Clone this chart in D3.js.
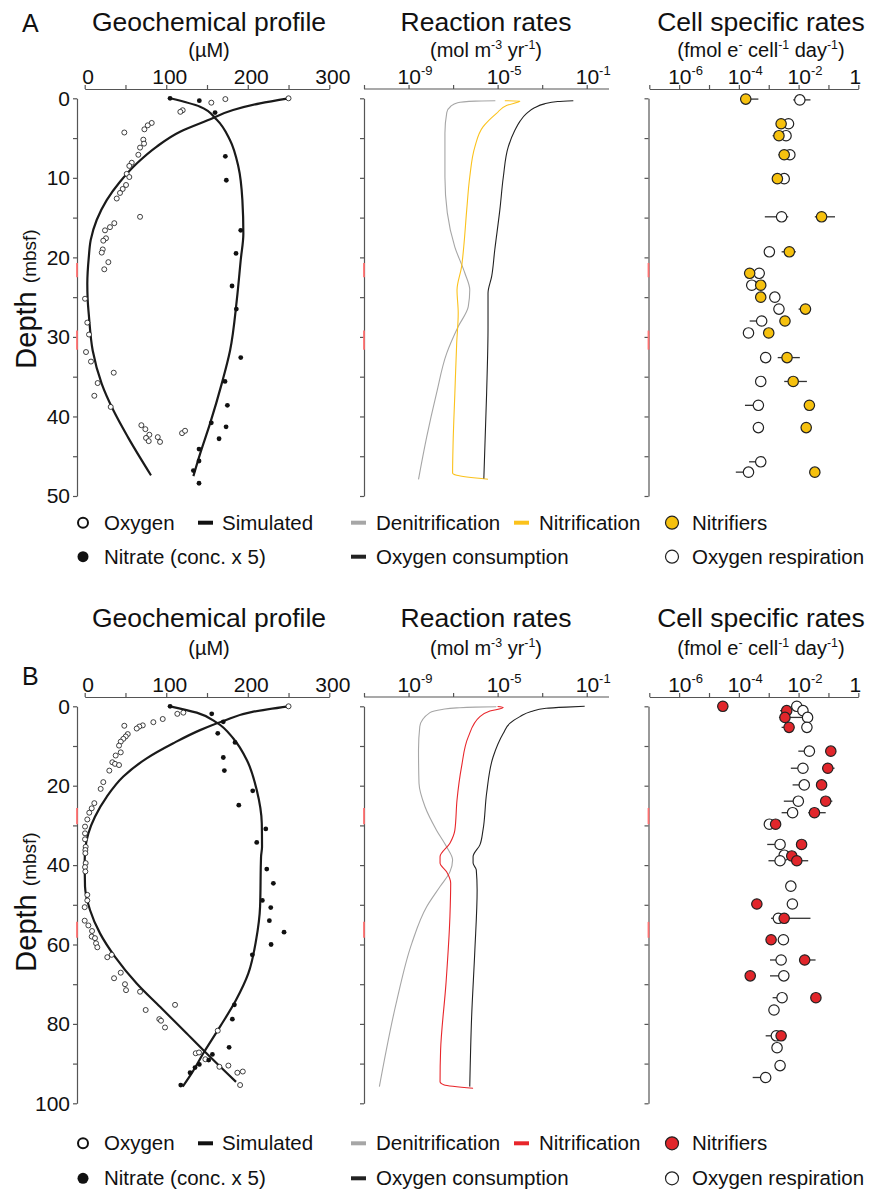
<!DOCTYPE html>
<html>
<head>
<meta charset="utf-8">
<script src="https://cdn.jsdelivr.net/npm/d3@7"></script>
<style>
  body { margin: 0; background: #fff; }
  text { font-family: "Liberation Sans", Arial, sans-serif; fill: #111; }
</style>
</head>
<body>
<svg id="fig" width="875" height="1190"></svg>
<script>
// ---------- panel A data (site A) ----------
// geochemistry: [concentration µM, depth mbsf]
const oxygenA = [[250,0],[172.5,0.1],[155.3,0.55],[120.2,1.5],[117.3,1.7],[82.2,3.1],[77.3,3.4],[73.2,3.9],[48.6,4.3],[71.9,5.2],[72.8,5.7],[67.9,6.2],[65.8,7.1],[57.7,8.1],[54.7,8.5],[51.5,9.5],[54.7,9.9],[50.7,10.9],[46.6,11.4],[43.3,11.9],[39.3,12.6],[67.9,14.9],[36.3,15.7],[31,16.2],[24.9,16.6],[26.1,17.6],[22.8,17.9],[22.1,19.0],[20.9,19.4],[29,20.6],[24,21.5],[0.4,25.2],[3.2,28.2],[5.3,29.7],[1.6,31.9],[7.7,33.1],[35.6,34.5],[15.9,35.8],[11.8,37.4],[31.9,38.8],[69.5,41.1],[74.4,41.6],[79.3,42.3],[75.2,42.7],[78.5,43.1],[89.6,42.6],[92.4,43.2],[119.4,42.1],[123.1,41.8]];
const nitrateA = [[104.7,0],[140.6,0.3],[159.9,1.8],[172.5,7.3],[173.7,10.3],[191.4,16.6],[185.6,19.5],[180.7,23.6],[186,26.5],[191.4,32.6],[172.1,35.6],[175,38.6],[155.3,40.8],[173.4,41.3],[164.8,42.8],[140.2,44.1],[140.2,45.6],[133.3,46.8],[140.2,48.4]];
const oxygenSimA = [[250,0],[215,0.63],[182,1.47],[150,2.8],[117,4.2],[88,6.1],[63.8,8.2],[43.3,10.5],[27,12.8],[14.7,15.3],[7.4,17.8],[5,20],[3.2,23.3],[3.6,25.2],[5.3,27.5],[9.8,31.7],[20.9,35.9],[35,39.2],[53,42.6],[81.3,47.4]];
const nitrateSimA = [[104.7,0],[141.5,1.05],[162,2.7],[178,5.2],[188.5,8.6],[193.4,12.8],[194.6,17],[191.4,20.3],[186.5,25.4],[178.3,31.7],[168,35.9],[153.7,40.9],[141.5,44.7],[133.3,47.5]];
// reaction rates: [depth, mol m-3 yr-1]
const denitA = [[0.3,7.9e-6],[0.35,1.0e-6],[0.55,1.6e-7],[1.0,7.9e-8],[1.8,5.2e-8],[4.4,4.3e-8],[9.9,4.3e-8],[14.4,5.5e-8],[18.7,1.2e-7],[22,3.4e-7],[24.1,5.6e-7],[26.2,4.8e-7],[28.7,1.7e-7],[32.1,5.1e-8],[37.1,1.8e-8],[42.6,6.5e-9],[47.9,2.8e-9]];
const nitrifA = [[0.3,2.1e-5],[0.35,1.0e-4],[0.9,2.5e-5],[1.9,8.9e-6],[3.6,2.2e-6],[6.1,9.5e-7],[9.9,5.6e-7],[14,4.1e-7],[18.7,3.0e-7],[21.2,2.4e-7],[24.1,1.5e-7],[27,1.7e-7],[30.8,1.45e-7],[37.1,1.2e-7],[43.4,1.0e-7],[47.1,9.5e-8],[47.4,1.45e-7],[47.9,3.7e-6]];
const oxConsA = [[0.3,2.5e-2],[0.4,5.0e-3],[0.7,1.26e-3],[1.2,4.5e-4],[1.9,2.0e-4],[2.9,1.0e-4],[4.0,6.0e-5],[6.1,3.0e-5],[9.9,1.8e-5],[14,1.26e-5],[19.1,7.4e-6],[22.4,5.4e-6],[24.5,3.7e-6],[28.7,3.7e-6],[37.1,3.2e-6],[47.8,2.4e-6]];
// cell specific rates: [depth, fmol e- cell-1 day-1, low, high]
const cellNitA = [[0.1,1.7e-4,1.1e-4,4.5e-4],[3.2,2.6e-3],[4.7,2.2e-3,1.35e-3],[7.1,3.3e-3,2.1e-3],[10.1,1.95e-3],[14.9,5.9e-2,3.5e-2,1.66e-1],[19.3,4.9e-3,2.7e-3,8.1e-3],[22.0,2.3e-4,1.6e-4],[23.5,5.4e-4],[25.0,5.4e-4],[26.5,1.7e-2,1.0e-2,2.5e-2],[28.0,3.5e-3],[29.5,1.0e-3],[32.6,4.1e-3,2.0e-3,1.1e-2],[35.6,6.6e-3,3.3e-3,1.9e-2],[38.6,2.3e-2],[41.4,1.8e-2],[47.0,3.5e-2]];
const cellOxA = [[0.2,1.1e-2,6.6e-3,2.5e-2],[3.2,4.6e-3],[4.7,3.8e-3],[7.1,5.1e-3],[10.1,3.3e-3],[14.9,2.7e-3,7.4e-4,4.5e-3],[19.3,1.05e-3],[22.0,4.8e-4],[23.5,2.7e-4],[25.0,1.6e-3],[26.5,2.2e-3],[28.0,5.8e-4,2.3e-4],[29.5,2.1e-4],[32.6,7.9e-4],[35.6,5.4e-4],[38.6,4.5e-4,1.6e-4],[41.4,4.5e-4],[45.7,5.4e-4,2.2e-4],[47.0,2.1e-4,7.9e-5]];
const zonesA = [[20.7,22.5],[29.2,31.6]];

// ---------- panel B data (site B) ----------
const oxygenB = [[250,0],[121,1.6],[113.6,1.9],[95.7,3.2],[84.2,4.0],[71.2,4.8],[67,5.1],[63.8,5.6],[48.6,4.9],[52.8,7.0],[50.3,7.6],[47.4,8.2],[44.2,8.9],[42.1,9.9],[44.2,11.6],[38,12.4],[33.9,14.1],[37.2,14.5],[42.1,14.8],[30.2,16.2],[22.8,19.1],[19.6,20.8],[11.8,24.4],[8.6,25.7],[5.6,26.8],[3.2,28.5],[0.4,30.3],[0.4,32],[0.4,33.5],[1.2,35.4],[0.8,36.2],[0.8,37.0],[1.2,39.5],[0.4,40.5],[0.8,41.6],[3.2,47.5],[3.2,48.9],[0,50.6],[0,54.0],[4.5,55.2],[9,56.6],[8.6,58.0],[12.6,58.4],[13.9,59.7],[15.5,60.7],[27.7,63.2],[33.1,62.6],[44.2,67.1],[36,68.5],[49.4,70.0],[50.7,71.5],[67.9,71.9],[110.8,75.2],[74.8,76.5],[91.5,78.8],[93.6,79.2],[98.5,80.9],[163.2,81.7],[136.2,87.4],[140.2,87.2],[148,88.9],[165.2,90.8],[176.2,90.5],[187.2,92.3],[193.9,92.0],[190.6,95.4]];
const nitrateB = [[104.7,0],[155.8,1.9],[170,3.9],[163.2,6.8],[184.4,9.1],[170,12.9],[171.3,16.2],[206.1,21.3],[189,24.9],[222.1,30.9],[211,34.3],[223.3,41.0],[231.4,44.6],[217.9,48.9],[228.2,50.7],[226.5,54.0],[244.5,56.9],[228.6,60.0],[205.6,62.6],[183.6,75.2],[181.1,78.8],[177.1,85.9],[156.6,87.7],[152.1,89.1],[140.6,90.2],[135.3,91.0],[129.2,92.3],[117.8,95.4]];
const oxygenSimB = [[250,0],[206.9,1.35],[170,3.7],[141.5,6.0],[108.7,9.3],[76,13.1],[47.4,17.7],[27,22.8],[12.6,27.8],[4.5,32.0],[1,35.4],[0,38.9],[0.4,45.4],[6.5,51.3],[18.8,57.2],[37.2,63.1],[63.8,69.8],[92.4,75.7],[125.2,82.4],[157.8,89.1],[185.6,94.6]];
const nitrateSimB = [[104.7,0],[137.4,1.6],[162,4.1],[182.3,8.1],[198.8,13.5],[211,21.1],[217.2,29.5],[217.5,35.4],[216.3,37.9],[215.1,50.5],[210.2,58.9],[200.7,67.3],[185.6,74.0],[166,80.7],[145.5,87.4],[131.3,92.4],[120.2,95.8]];
const denitB = [[0.1,8.7e-6],[0.2,1.0e-6],[0.4,1.45e-7],[0.8,3.2e-8],[1.6,9.1e-9],[5.1,3.2e-9],[11,2.8e-9],[19.4,2.95e-9],[25.3,5.5e-9],[31.2,1.8e-8],[35.4,5.1e-8],[38.7,9.5e-8],[41.7,7.2e-8],[45.4,2.6e-8],[50.5,6.5e-9],[59.7,1.4e-9],[74,3.0e-10],[95.8,4.9e-11]];
const nitrifB = [[0.05,1.0e-5],[0.3,1.8e-5],[1.2,4.5e-6],[2.6,1.6e-6],[7.7,4.8e-7],[15.2,2.4e-7],[23.6,1.5e-7],[31.2,1.2e-7],[34.5,7.2e-8],[37.9,2.6e-8],[39.5,2.6e-8],[41.7,5.1e-8],[44.6,7.8e-8],[53,7.2e-8],[69.8,4.8e-8],[86.6,2.75e-8],[94.6,2.6e-8],[95.4,4e-8],[96.2,7.9e-7]];
const oxConsB = [[0,8.1e-2],[0.2,1.2e-2],[0.5,1.5e-3],[1.3,3.2e-4],[2.6,1.0e-4],[4.3,3.5e-5],[6.8,1.8e-5],[12.7,6.3e-6],[21.9,3.2e-6],[31.2,2.2e-6],[34.9,1.6e-6],[37.9,7.9e-7],[39.5,7.9e-7],[41.2,1.1e-6],[46.3,1.2e-6],[61.4,9.5e-7],[78.2,6.8e-7],[95.8,5.6e-7]];
const cellNitB = [[0,2.9e-5],[1.1,4.0e-3,2.4e-3],[2.8,3.5e-3,2.2e-3,2.0e-2],[5.3,4.8e-3,2.7e-3],[11.3,1.2e-1],[15.6,9.5e-2,9.5e-2,1.6e-1],[19.8,5.9e-2],[23.9,8.1e-2,8.1e-2,1.35e-1],[26.8,3.4e-2,2.1e-2,8.1e-2],[29.7,1.7e-3],[34.8,1.26e-2],[37.7,5.9e-3],[38.9,8.7e-3,8.7e-3,2.1e-2],[49.8,4.0e-4],[53.4,3.3e-3,3.3e-3,2.5e-2],[58.8,1.2e-3],[63.9,1.6e-2,1.6e-2,3.7e-2],[67.9,2.4e-4],[73.4,3.8e-2],[83.0,2.6e-3]];
const cellOxB = [[0,8.7e-3],[1.1,1.4e-2],[2.8,2.0e-2],[5.3,1.9e-2],[11.3,2.3e-2,9.8e-3],[15.6,1.4e-2,5.5e-3],[19.8,1.55e-2,6.3e-3],[23.9,9.8e-3,3.2e-3],[26.8,6.3e-3,2.7e-3],[29.7,1.05e-3],[34.8,2.4e-3,8.9e-4],[37.5,3.3e-3],[38.9,2.4e-3,9.8e-4],[45.3,5.5e-3],[49.8,6.2e-3],[53.4,2.1e-3,1.2e-3],[58.8,3.1e-3],[63.9,2.6e-3,1.1e-3],[67.9,3.2e-3,1.1e-3],[73.4,2.8e-3,1.35e-3],[76.5,1.5e-3],[83.0,1.8e-3,7.9e-4],[86.0,1.9e-3],[90.5,2.4e-3],[93.5,7.9e-4,2.9e-4]];
const zonesB = [[25.6,29.7],[54.3,58.3]];

// ---------- axis ticks ----------
const concTicks = [0, 50, 100, 150, 200, 250, 300];
const concLabels = [0, 100, 200, 300];
const rateTicks = [1e-11, 1e-9, 1e-7, 1e-5, 1e-3, 1e-1];
const rateLabels = [[1e-9, "-9"], [1e-5, "-5"], [1e-1, "-1"]];
const cellTicks = [1e-7, 1e-6, 1e-5, 1e-4, 1e-3, 1e-2, 1e-1, 1];
const cellLabels = [[1e-6, "-6"], [1e-4, "-4"], [1e-2, "-2"]];

const fig = d3.select("#fig");
const AX = "#555";
const FONT = "Liberation Sans, Arial, sans-serif";

function styleAxis(g, size) {
  g.attr("font-family", FONT).attr("font-size", size || 20);
  g.select(".domain").attr("stroke", AX).attr("stroke-width", 1.2);
  g.selectAll(".tick line").attr("stroke", AX).attr("stroke-width", 1.2);
  g.selectAll(".tick text").attr("fill", "#111");
}

// text with superscript parts: [[text, isSup], ...]
function richText(x, y, parts, size, anchor) {
  const t = fig.append("text").attr("x", x).attr("y", y)
    .attr("font-size", size).attr("text-anchor", anchor || "middle");
  let up = false;
  parts.forEach(([s, isSup]) => {
    const ts = t.append("tspan").text(s);
    if (isSup) ts.attr("font-size", size * 0.62);
    if (isSup && !up) { ts.attr("dy", -size * 0.42); up = true; }
    else if (!isSup && up) { ts.attr("dy", size * 0.42); up = false; }
  });
  return t;
}

function drawRow(r) {
  const y = d3.scaleLinear().domain([0, r.dmax]).range([r.y0, r.y1]);
  const xc = d3.scaleLinear().domain([0, 300]).range([84.7, 329.3]);
  const xr = d3.scaleLog().domain([1e-11, 1]).range([364, 609]);
  const xs = d3.scaleLog().domain([1e-7, 1]).range([649.3, 858.3]);
  const depthTicks = d3.range(0, r.dmax + 0.01, r.minor);

  // titles
  fig.append("text").attr("x", 22).attr("y", r.letterY).attr("font-size", 25).text(r.letter);
  [[209, "Geochemical profile"], [486, "Reaction rates"], [761, "Cell specific rates"]].forEach(([cx, s]) =>
    fig.append("text").attr("x", cx).attr("y", r.titleY).attr("text-anchor", "middle")
      .attr("font-size", 26.5).text(s));
  richText(209, r.unitY, [["(µM)", 0]], 20);
  richText(486, r.unitY, [["(mol m", 0], ["-3", 1], [" yr", 0], ["-1", 1], [")", 0]], 20);
  richText(761, r.unitY, [["(fmol e", 0], ["-", 1], [" cell", 0], ["-1", 1], [" day", 0], ["-1", 1], [")", 0]], 20);

  // y axes
  const yAxisAt = (xpos, labelled) => {
    const g = fig.append("g").attr("transform", `translate(${xpos},0)`)
      .call(d3.axisLeft(y).tickValues(depthTicks).tickSize(4).tickSizeOuter(0).tickPadding(3)
        .tickFormat(d => labelled && d % r.major === 0 ? d : ""));
    styleAxis(g, 21);
    g.selectAll(".zone").data(r.zones).enter().append("line")
      .attr("x1", 0).attr("x2", 0)
      .attr("y1", d => y(d[0])).attr("y2", d => y(d[1]))
      .attr("stroke", "#ff7070").attr("stroke-width", 1.8);
  };
  yAxisAt(77, true);
  yAxisAt(364, false);
  yAxisAt(648.5, false);

  // depth label
  const dl = fig.append("text").attr("transform", `translate(36,${r.labelY}) rotate(-90)`)
    .attr("text-anchor", "middle");
  dl.append("tspan").attr("font-size", 29).text("Depth ");
  dl.append("tspan").attr("font-size", 19).text("(mbsf)");

  // top axes
  const gc = fig.append("g").attr("transform", `translate(0,${r.top})`)
    .call(d3.axisTop(xc).tickValues(concTicks).tickSize(4).tickSizeOuter(0).tickPadding(1)
      .tickFormat(d => concLabels.includes(d) ? d : ""));
  styleAxis(gc, 21);
  gc.selectAll(".tick text").attr("dx", 3);

  const gr = fig.append("g").attr("transform", `translate(0,${r.top})`)
    .call(d3.axisTop(xr).tickValues(rateTicks).tickSize(4).tickSizeOuter(0).tickFormat(""));
  styleAxis(gr);
  gr.select(".domain").attr("d", `M${xr.range()[0]},0H${xr.range()[1]}`);
  rateLabels.forEach(([v, e]) => richText(xr(v) - 11, r.top - 5, [["10", 0], [e, 1]], 21, "start"));

  const gs = fig.append("g").attr("transform", `translate(0,${r.top})`)
    .call(d3.axisTop(xs).tickValues(cellTicks).tickSize(4).tickSizeOuter(0).tickFormat(""));
  styleAxis(gs);
  cellLabels.forEach(([v, e]) => richText(xs(v) - 11, r.top - 5, [["10", 0], [e, 1]], 21, "start"));
  richText(xs(1) - 3, r.top - 5, [["1", 0]], 21);

  // geochemical profiles
  const simLine = d3.line().x(d => xc(d[0])).y(d => y(d[1])).curve(d3.curveMonotoneY);
  [r.oxygenSim, r.nitrateSim].forEach(s =>
    fig.append("path").attr("d", simLine(s)).attr("fill", "none")
      .attr("stroke", "#1a1a1a").attr("stroke-width", 2.2));
  fig.append("g").selectAll("circle").data(r.oxygen).enter().append("circle")
    .attr("cx", d => xc(d[0])).attr("cy", d => y(d[1])).attr("r", 2.5)
    .attr("fill", "#fff").attr("stroke", "#111").attr("stroke-width", 0.8);
  fig.append("g").selectAll("circle").data(r.nitrate).enter().append("circle")
    .attr("cx", d => xc(d[0])).attr("cy", d => y(d[1])).attr("r", 2.4)
    .attr("fill", "#111");

  // reaction rates
  const rateLine = d3.line().x(d => xr(d[1])).y(d => y(d[0])).curve(d3.curveMonotoneY);
  [[r.denit, "#a6a6a6"], [r.nitrif, r.lineColor], [r.oxCons, "#222"]].forEach(([s, c]) =>
    fig.append("path").attr("d", rateLine(s)).attr("fill", "none")
      .attr("stroke", c).attr("stroke-width", 1.1));

  // cell specific rates
  const cells = [[r.cellOx, "#fff"], [r.cellNit, r.dotColor]];
  cells.forEach(([s]) =>
    fig.append("g").selectAll("line").data(s.filter(d => d.length > 2)).enter().append("line")
      .attr("x1", d => xs(d[2])).attr("x2", d => xs(d[3] || d[1]))
      .attr("y1", d => y(d[0])).attr("y2", d => y(d[0]))
      .attr("stroke", "#333").attr("stroke-width", 1.3));
  cells.forEach(([s, c]) =>
    fig.append("g").selectAll("circle").data(s).enter().append("circle")
      .attr("cx", d => xs(d[1])).attr("cy", d => y(d[0])).attr("r", 5.2)
      .attr("fill", c).attr("stroke", "#222").attr("stroke-width", 1.2));

  // legend
  const [l1, l2] = r.legendY;
  const lg = fig.append("g");
  const label = (x, yy, s) => lg.append("text").attr("x", x).attr("y", yy).attr("dy", "0.35em")
    .attr("font-size", 20.5).text(s);
  const dash = (x, yy, c) => lg.append("line").attr("x1", x).attr("x2", x + 15)
    .attr("y1", yy).attr("y2", yy).attr("stroke", c).attr("stroke-width", 4);
  lg.append("circle").attr("cx", 83).attr("cy", l1).attr("r", 5).attr("fill", "#fff")
    .attr("stroke", "#111").attr("stroke-width", 2);
  label(104, l1, "Oxygen");
  dash(198, l1, "#111");
  label(222, l1, "Simulated");
  dash(351, l1, "#a6a6a6");
  label(376, l1, "Denitrification");
  dash(514, l1, r.lineColor);
  label(539, l1, "Nitrification");
  lg.append("circle").attr("cx", 672).attr("cy", l1).attr("r", 6.5).attr("fill", r.dotColor)
    .attr("stroke", "#222").attr("stroke-width", 1.2);
  label(692, l1, "Nitrifiers");
  lg.append("circle").attr("cx", 83).attr("cy", l2).attr("r", 5.5).attr("fill", "#111");
  label(104, l2, "Nitrate (conc. x 5)");
  dash(351, l2, "#222");
  label(376, l2, "Oxygen consumption");
  lg.append("circle").attr("cx", 672).attr("cy", l2).attr("r", 6.5).attr("fill", "#fff")
    .attr("stroke", "#222").attr("stroke-width", 1.2);
  label(692, l2, "Oxygen respiration");
}

drawRow({
  letter: "A", letterY: 32, titleY: 31, unitY: 57, top: 89, y0: 98.3, y1: 496,
  dmax: 50, major: 10, minor: 5, labelY: 299, legendY: [522.7, 556.7],
  zones: zonesA, lineColor: "#fbc21c", dotColor: "#f6c10e",
  oxygen: oxygenA, nitrate: nitrateA, oxygenSim: oxygenSimA, nitrateSim: nitrateSimA,
  denit: denitA, nitrif: nitrifA, oxCons: oxConsA, cellNit: cellNitA, cellOx: cellOxA
});
drawRow({
  letter: "B", letterY: 685, titleY: 627, unitY: 655, top: 697, y0: 706.3, y1: 1103.3,
  dmax: 100, major: 20, minor: 10, labelY: 902, legendY: [1143.3, 1178.3],
  zones: zonesB, lineColor: "#e8262b", dotColor: "#e1262b",
  oxygen: oxygenB, nitrate: nitrateB, oxygenSim: oxygenSimB, nitrateSim: nitrateSimB,
  denit: denitB, nitrif: nitrifB, oxCons: oxConsB, cellNit: cellNitB, cellOx: cellOxB
});
</script>
</body>
</html>
